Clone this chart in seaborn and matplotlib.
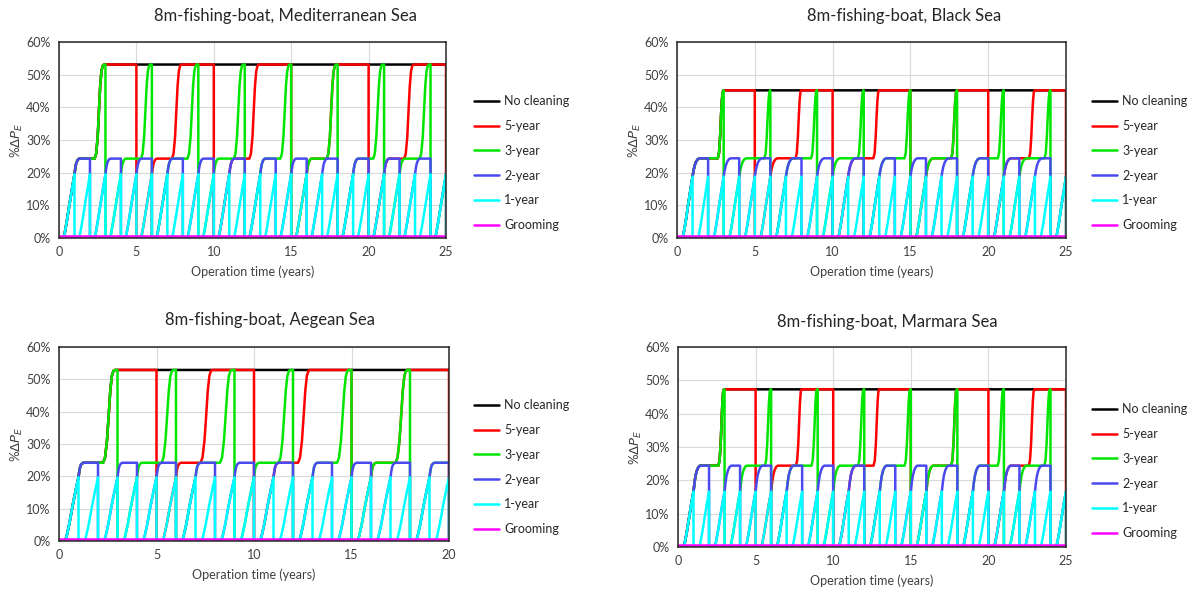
import numpy as np
import pandas as pd
import matplotlib
matplotlib.use('Agg')
import matplotlib.pyplot as plt
from matplotlib.lines import Line2D
from matplotlib.ticker import PercentFormatter
import seaborn as sns

# Series and colours (legend order = drawing order)
labels = ['No cleaning', '5-year', '3-year', '2-year', '1-year', 'Grooming']
colors = ['#000000', '#FF0000', '#00E600', '#4A4AF0', '#00FFFF', '#FF00FF']
intervals = [None, 5, 3, 2, 1, 0]   # None = never cleaned, 0 = grooming

# Fouling growth after a cleaning:
# years since cleaning -> %dPe
med_t = [0, 0.26, 0.36, 0.5, 0.7, 0.85, 1.0, 1.05, 1.1, 1.18, 1.26, 1.34, 2.0, 2.3, 2.4, 2.5, 2.58, 2.66, 2.74, 2.82, 2.9, 3.0, 5.0]
med_v = [0, 0, 1.2, 5, 11, 15.3, 19.5, 21.3, 22.6, 23.7, 24.2, 24.3, 24.3, 24.3, 25.8, 31, 39, 46.5, 51, 52.7, 53.1, 53.1, 53.1]

black_t = [0, 0.33, 0.42, 0.55, 0.72, 0.87, 1.0, 1.06, 1.13, 1.22, 1.33, 1.45, 2.0, 2.62, 2.7, 2.77, 2.83, 2.88, 2.93, 2.98, 3.0, 5.0]
black_v = [0, 0, 1.2, 4.8, 10.3, 14.8, 18.8, 20.6, 22.1, 23.3, 24.1, 24.4, 24.4, 24.4, 26, 31, 37.5, 42, 44.6, 45.2, 45.2, 45.2]

aeg_t = [0, 0.29, 0.38, 0.52, 0.7, 0.85, 1.0, 1.04, 1.08, 1.13, 1.19, 1.25, 2.0, 2.26, 2.36, 2.46, 2.55, 2.63, 2.71, 2.79, 2.87, 3.0, 5.0]
aeg_v = [0, 0, 1.2, 5, 11, 15.5, 19.7, 21.5, 22.8, 23.6, 24.0, 24.2, 24.2, 24.2, 25.8, 31, 39, 46.5, 51, 52.6, 52.9, 52.9, 52.9]

mar_t = [0, 0.34, 0.43, 0.56, 0.73, 0.87, 1.0, 1.06, 1.13, 1.22, 1.32, 1.42, 2.0, 2.6, 2.68, 2.75, 2.81, 2.86, 2.91, 2.96, 3.0, 5.0]
mar_v = [0, 0, 1.1, 4.3, 9.3, 13.3, 16.6, 19.2, 21.4, 23.0, 24.0, 24.4, 24.4, 24.4, 26, 31, 38, 43.5, 46.6, 47.3, 47.3, 47.3]

groom_v = 0.5

titles = ['8m-fishing-boat, Mediterranean Sea', '8m-fishing-boat, Black Sea',
          '8m-fishing-boat, Aegean Sea', '8m-fishing-boat, Marmara Sea']
t_ends = [25, 25, 20, 25]
profiles = [(med_t, med_v), (black_t, black_v), (aeg_t, aeg_v), (mar_t, mar_v)]


def build(tt, vv, t_end):
    rows = []
    for lab, step in zip(labels, intervals):
        if step is None:
            pts = list(zip(tt, vv)) + [(t_end, vv[-1])]
        elif step == 0:
            pts = [(0, groom_v), (t_end, groom_v)]
        else:
            pts = []
            for start in range(0, t_end, step):
                span = min(step, t_end - start)
                pts += [(start + t, v) for t, v in zip(tt, vv) if t <= span]
                if start + step <= t_end:
                    pts.append((start + step, 0))
        rows += [(lab, x, y) for x, y in pts]
    return pd.DataFrame(rows, columns=['series', 'time', 'dPe'])


sns.set_theme(style='white')
plt.rcParams['font.family'] = ['Lato', 'DejaVu Sans']
plt.rcParams['mathtext.fontset'] = 'dejavusans'

W, H = 1192, 597
fig = plt.figure(figsize=(W / 100, H / 100), dpi=100)

# plot areas in pixels: left, top, right, bottom
boxes = [(59, 42, 446, 238), (677, 42, 1066, 238), (59, 347, 449, 541), (678, 347, 1066, 547)]
title_xy = [(286, 16), (904, 16), (270, 320), (887, 322)]
legend_xy = [(463, 84), (1081, 84), (463, 388), (1081, 392)]

txt = '#404040'
for i in range(4):
    l, t, r, b = boxes[i]
    ax = fig.add_axes([l / W, 1 - b / H, (r - l) / W, (b - t) / H])
    df = build(profiles[i][0], profiles[i][1], t_ends[i])
    sns.lineplot(data=df, x='time', y='dPe', hue='series', hue_order=labels,
                 palette=colors, estimator=None, sort=False, lw=1.8,
                 legend=False, ax=ax)
    ax.set_xlim(0, t_ends[i])
    ax.set_ylim(0, 60)
    ax.set_xticks(np.arange(0, t_ends[i] + 1, 5))
    ax.set_yticks(np.arange(0, 61, 10))
    ax.yaxis.set_major_formatter(PercentFormatter(decimals=0))
    ax.grid(True, color='#D9D9D9', lw=0.8)
    ax.set_axisbelow(True)
    for s in ax.spines.values():
        s.set_color('#262626')
        s.set_linewidth(1.1)
    ax.tick_params(length=0, labelsize=9, colors=txt, pad=6)
    ax.set_xlabel('Operation time (years)', fontsize=9, color=txt, labelpad=5)
    ax.set_ylabel(r'%$\mathit{\Delta P_E}$', fontsize=9.5, color=txt, labelpad=1)
    fig.text(title_xy[i][0] / W, 1 - title_xy[i][1] / H, titles[i], ha='center',
             va='center', fontsize=12, color='#262626')
    handles = [Line2D([], [], color=c, lw=1.8) for c in colors]
    fig.legend(handles, labels, loc='upper left',
               bbox_to_anchor=(legend_xy[i][0] / W, 1 - legend_xy[i][1] / H),
               frameon=False, fontsize=9, handlelength=2.0, handletextpad=0.4,
               labelspacing=1.02, labelcolor='#262626')

fig.savefig('out.png', dpi=100)
